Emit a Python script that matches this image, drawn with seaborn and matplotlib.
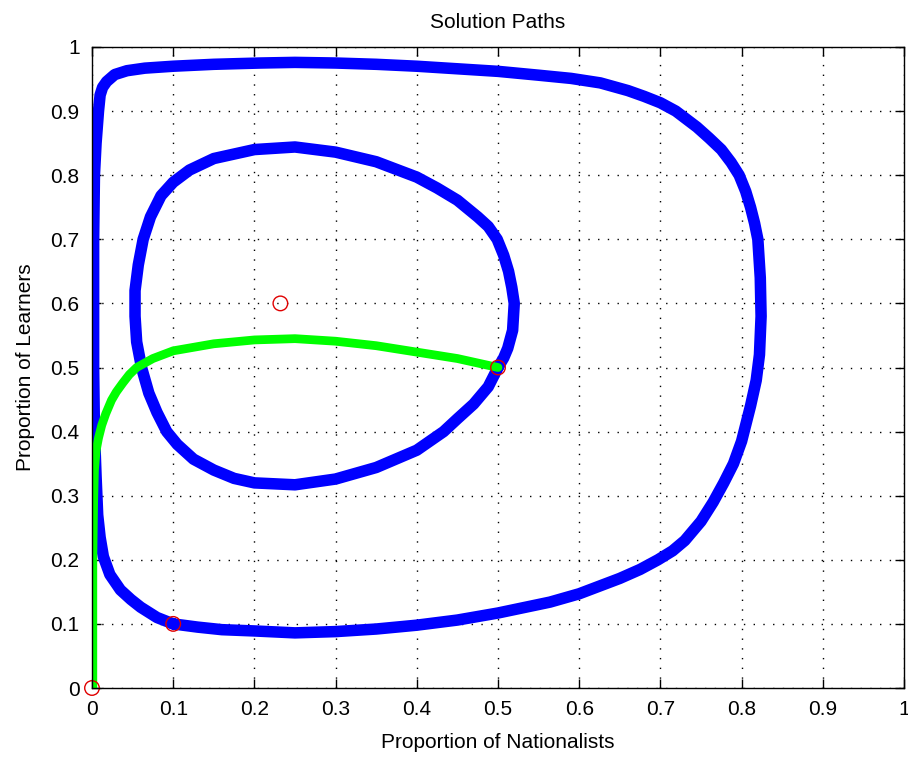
import numpy as np
import pandas as pd
import matplotlib
matplotlib.use("Agg")
import matplotlib.pyplot as plt
import seaborn as sns

# ---- data ----
outer_x = [0.10, 0.13, 0.16, 0.20, 0.25, 0.30, 0.35, 0.40, 0.45, 0.50, 0.564, 0.60,
           0.65, 0.675, 0.697, 0.715, 0.73, 0.75, 0.765, 0.778, 0.790, 0.80, 0.811,
           0.818, 0.822, 0.824, 0.823, 0.820, 0.816, 0.811, 0.805, 0.797, 0.787,
           0.775, 0.760, 0.745, 0.719, 0.70, 0.68, 0.66, 0.626, 0.59, 0.55, 0.50,
           0.45, 0.40, 0.35, 0.30, 0.25, 0.207, 0.15, 0.10, 0.065, 0.043, 0.028,
           0.018, 0.013, 0.010, 0.008, 0.005, 0.003, 0.002, 0.002, 0.003, 0.005,
           0.007, 0.010, 0.014, 0.022, 0.035, 0.048, 0.06, 0.08, 0.10]
outer_y = [0.10, 0.095, 0.091, 0.089, 0.086, 0.088, 0.092, 0.098, 0.106, 0.117, 0.134,
           0.147, 0.171, 0.185, 0.200, 0.214, 0.230, 0.260, 0.290, 0.320, 0.350,
           0.385, 0.440, 0.48, 0.52, 0.58, 0.64, 0.70, 0.725, 0.75, 0.775, 0.80,
           0.82, 0.84, 0.858, 0.875, 0.90, 0.913, 0.923, 0.932, 0.944, 0.951, 0.956,
           0.962, 0.966, 0.970, 0.973, 0.975, 0.976, 0.975, 0.973, 0.970, 0.967,
           0.963, 0.957, 0.946, 0.937, 0.925, 0.90, 0.85, 0.80, 0.70, 0.50, 0.40,
           0.33, 0.27, 0.235, 0.205, 0.177, 0.153, 0.138, 0.126, 0.110, 0.10]

inner_x = [0.50, 0.507, 0.512, 0.518, 0.520, 0.517, 0.513, 0.507, 0.499, 0.488,
           0.475, 0.45, 0.425, 0.40, 0.35, 0.30, 0.25, 0.20, 0.15, 0.12, 0.10, 0.085,
           0.072, 0.063, 0.057, 0.053, 0.053, 0.055, 0.061, 0.070, 0.080, 0.092,
           0.105, 0.125, 0.15, 0.175, 0.20, 0.25, 0.30, 0.35, 0.40, 0.433, 0.45,
           0.47, 0.488, 0.50]
inner_y = [0.50, 0.515, 0.53, 0.558, 0.60, 0.625, 0.65, 0.675, 0.70, 0.72, 0.735,
           0.761, 0.780, 0.797, 0.821, 0.836, 0.844, 0.840, 0.826, 0.808, 0.789,
           0.768, 0.735, 0.70, 0.66, 0.62, 0.58, 0.54, 0.50, 0.46, 0.43, 0.40, 0.38,
           0.357, 0.340, 0.327, 0.320, 0.317, 0.326, 0.344, 0.371, 0.40, 0.42,
           0.443, 0.47, 0.50]

green_x = [0.001, 0.001, 0.001, 0.002, 0.003, 0.005, 0.008, 0.012, 0.017, 0.024, 0.030,
           0.038, 0.046, 0.055, 0.075, 0.10, 0.15, 0.20, 0.25, 0.30, 0.35, 0.40,
           0.45, 0.50]
green_y = [0.0, 0.10, 0.20, 0.29, 0.34, 0.37, 0.39, 0.41, 0.428, 0.449, 0.462,
           0.476, 0.489, 0.500, 0.514, 0.526, 0.537, 0.543, 0.545, 0.541, 0.534,
           0.524, 0.514, 0.50]

start_x = [0.0, 0.10, 0.50, 0.232]
start_y = [0.0, 0.10, 0.50, 0.600]

ticks = [0, 0.1, 0.2, 0.3, 0.4, 0.5, 0.6, 0.7, 0.8, 0.9, 1]
tick_labels = ["0", "0.1", "0.2", "0.3", "0.4", "0.5", "0.6", "0.7", "0.8", "0.9", "1"]

# ---- styling ----
sns.set_theme(style="white")
plt.rcParams["font.family"] = ["Liberation Sans", "DejaVu Sans"]
plt.rcParams["text.color"] = "black"
plt.rcParams["axes.labelcolor"] = "black"
plt.rcParams["lines.solid_joinstyle"] = "round"
plt.rcParams["lines.solid_capstyle"] = "round"

fig = plt.figure(figsize=(9.08, 7.60), dpi=100, facecolor="white")
ax = fig.add_axes([92 / 908, 1 - 688 / 760, (904 - 92) / 908, (688 - 47) / 760])
ax.set_facecolor("white")

outer = pd.DataFrame({"x": outer_x, "y": outer_y})
inner = pd.DataFrame({"x": inner_x, "y": inner_y})
green = pd.DataFrame({"x": green_x, "y": green_y})
starts = pd.DataFrame({"x": start_x, "y": start_y})

sns.lineplot(data=outer, x="x", y="y", sort=False, estimator=None, color="#0000ff",
             linewidth=8.3, ax=ax)
sns.lineplot(data=inner, x="x", y="y", sort=False, estimator=None, color="#0000ff",
             linewidth=8.3, ax=ax)
sns.lineplot(data=green, x="x", y="y", sort=False, estimator=None, color="#00ff00",
             linewidth=6.3, ax=ax)
sns.scatterplot(data=starts, x="x", y="y", marker="o", s=110, fc="none", ec="#e00000",
                linewidth=1.0, ax=ax, clip_on=False, zorder=5)

ax.set_xlim(0, 1)
ax.set_ylim(0, 1)
ax.set_xticks(ticks)
ax.set_yticks(ticks)
ax.set_xticklabels(tick_labels)
ax.set_yticklabels(tick_labels)

ax.grid(True, color="black", linestyle=(0, (1, 6)), linewidth=1.0)
ax.set_axisbelow(True)
for s in ax.spines.values():
    s.set_visible(True)
    s.set_color("black")
    s.set_linewidth(1.0)
    s.set_zorder(6)

ax.tick_params(direction="in", length=6.5, width=1.0, top=True, right=True,
               bottom=True, left=True, labelsize=15, colors="black")
ax.tick_params(axis="x", pad=8.5)
ax.tick_params(axis="y", pad=9)

ax.set_title("Solution Paths", fontsize=15, pad=14, color="black")
ax.set_xlabel("Proportion of Nationalists", fontsize=15, labelpad=10, color="black")
ax.set_ylabel("Proportion of Learners", fontsize=15, labelpad=11, color="black")

fig.savefig("out.png", dpi=100, facecolor="white")
